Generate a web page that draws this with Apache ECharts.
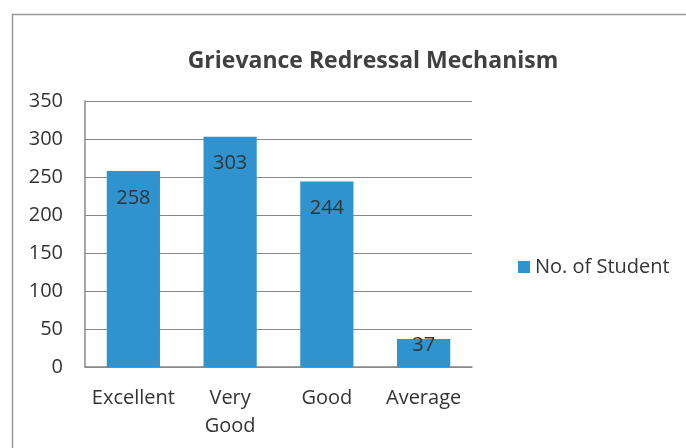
<!DOCTYPE html>
<html>
<head>
<meta charset="utf-8">
<script src="https://cdn.jsdelivr.net/npm/echarts@6/dist/echarts.min.js"></script>
<style>
html,body{margin:0;padding:0;background:#fff;}
#c{width:686px;height:448px;}
</style>
</head>
<body>
<div id="c"></div>
<script>
const categories = ['Excellent', 'Very\nGood', 'Good', 'Average'];
const values = [258, 303, 244, 37];
const seriesName = 'No. of Student';
const titleText = 'Grievance Redressal Mechanism';
const FONT = '"Open Sans", "Noto Sans", sans-serif';

// short bars: label is pushed up to the bar's top edge (as in the source)
const barData = values.map(v => v < 60
  ? {value: v, label: {distance: -4}}
  : v);

const chart = echarts.init(document.getElementById('c'), null, {renderer: 'canvas'});
chart.setOption({
  animation: false,
  textStyle: {fontFamily: FONT},
  graphic: [{
    type: 'rect',
    shape: {x: 12.5, y: 14.5, width: 720, height: 480},
    style: {fill: 'none', stroke: '#9a9a9a', lineWidth: 1.5},
    silent: true
  }],
  title: {
    text: titleText,
    left: 368, top: 45, textAlign: 'center',
    textStyle: {fontFamily: FONT, fontSize: 23, fontWeight: 'bold', color: '#404040'}
  },
  legend: {
    data: [seriesName],
    left: 513, top: 252,
    icon: 'rect', itemWidth: 12, itemHeight: 12, itemGap: 6,
    textStyle: {fontFamily: FONT, fontSize: 20, color: '#333'}
  },
  grid: {left: 85, right: 214, top: 101, bottom: 81},
  xAxis: {
    type: 'category', data: categories,
    axisLine: {lineStyle: {color: '#888', width: 1.5}},
    axisTick: {show: false},
    axisLabel: {fontFamily: FONT, fontSize: 20, color: '#333', margin: 17, lineHeight: 28, interval: 0}
  },
  yAxis: {
    type: 'value', min: 0, max: 350, interval: 50,
    axisLine: {show: true, lineStyle: {color: '#888', width: 1.5}},
    axisTick: {show: false},
    splitLine: {lineStyle: {color: '#888', width: 1.2}},
    axisLabel: {fontFamily: FONT, fontSize: 20, color: '#333', margin: 22}
  },
  series: [{
    name: seriesName, type: 'bar', data: barData,
    barWidth: '55%',
    itemStyle: {color: '#2E93CF'},
    label: {show: true, position: 'insideTop', distance: 17, fontFamily: FONT, fontSize: 20, color: '#333'}
  }]
});
</script>
</body>
</html>
